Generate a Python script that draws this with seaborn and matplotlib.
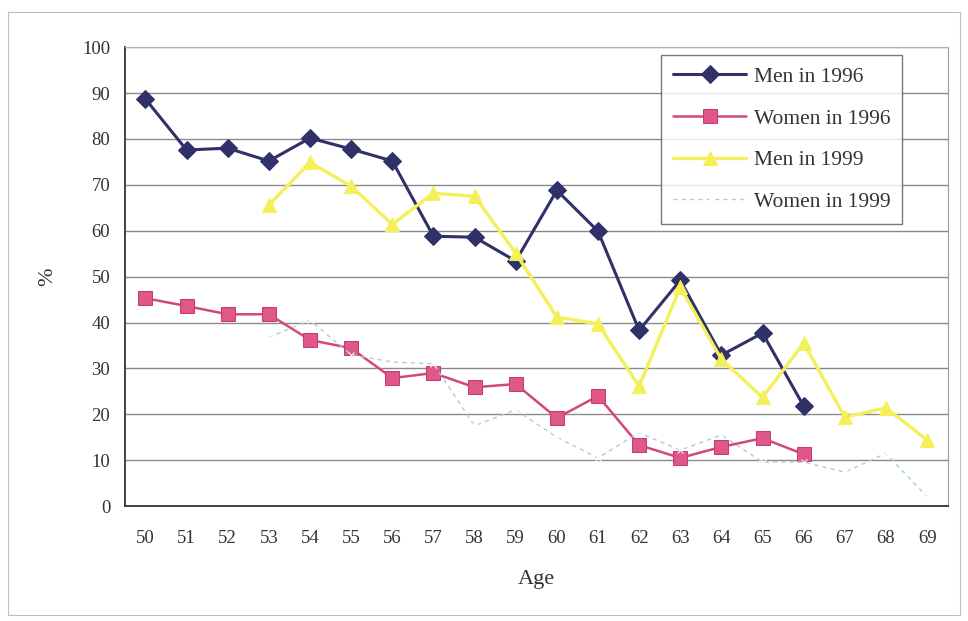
import numpy as np
import pandas as pd
import matplotlib
matplotlib.use("Agg")
import matplotlib.pyplot as plt
from matplotlib.patches import Rectangle
from matplotlib.ticker import MultipleLocator, FixedLocator
import seaborn as sns

ages = list(range(50, 70))
nan = np.nan

men_1996 = [88.7, 77.6, 78.0, 75.2, 80.2, 77.8, 75.2, 58.8, 58.6, 53.4,
            68.8, 59.9, 38.3, 49.2, 32.9, 37.7, 21.8, nan, nan, nan]
women_1996 = [45.3, 43.6, 41.8, 41.8, 36.2, 34.4, 27.9, 29.0, 25.9, 26.6,
              19.2, 24.0, 13.3, 10.5, 12.9, 14.8, 11.3, nan, nan, nan]
men_1999 = [nan, nan, nan, 65.6, 74.9, 69.7, 61.4, 68.2, 67.5, 55.1,
            41.2, 39.7, 26.1, 47.7, 32.0, 23.7, 35.5, 19.4, 21.4, 14.4]
women_1999 = [nan, nan, nan, 36.8, 40.5, 33.0, 31.4, 31.0, 17.5, 21.0,
              15.0, 10.5, 16.0, 12.2, 15.5, 9.6, 9.6, 7.4, 11.5, 2.0]

series = ["Men in 1996", "Women in 1996", "Men in 1999", "Women in 1999"]

sns.set_style("white")
plt.rcParams['font.family'] = ['Liberation Serif', 'DejaVu Serif']

fig = plt.figure(figsize=(9.68, 6.21), dpi=100)
ax = fig.add_axes([0.129, 0.185, 0.850, 0.739])

# outer chart frame
fig.patches.append(Rectangle((0.008, 0.01), 0.984, 0.97, transform=fig.transFigure,
                             fill=False, edgecolor='#bdbdbd', linewidth=0.8))

sns.lineplot(x=ages, y=men_1996, ax=ax, color='#2f3168', marker='D', markersize=9,
             markeredgecolor='#2f3168', linewidth=2.2, label=series[0])
sns.lineplot(x=ages, y=women_1996, ax=ax, color='#d2487a', marker='s', markersize=10,
             markerfacecolor='#e0588a', markeredgecolor='#c63c6e', linewidth=1.8,
             label=series[1])
sns.lineplot(x=ages, y=men_1999, ax=ax, color='#f4f05a', marker='^', markersize=10,
             markeredgecolor='#f4f05a', linewidth=2.4, label=series[2])
sns.lineplot(x=ages, y=women_1999, ax=ax, color='#a8cde3', linestyle=(0, (3, 3)),
             marker='x', markersize=4, linewidth=1.0, label=series[3])

ax.set_xlim(49.5, 69.5)
ax.set_ylim(0, 100)
ax.yaxis.set_major_locator(MultipleLocator(10))
ax.xaxis.set_major_locator(FixedLocator(ages))
ax.xaxis.set_minor_locator(FixedLocator([a + 0.5 for a in ages[:-1]]))
ax.grid(axis='y', color='#8a8a8a', linewidth=1.0)
ax.set_axisbelow(True)

ax.tick_params(axis='x', which='major', length=0, pad=17, labelsize=13.5, colors='#333333')
ax.tick_params(axis='x', which='minor', length=5, direction='in', color='#555555')
ax.tick_params(axis='y', length=4, direction='in', pad=10.5, labelsize=13.5, colors='#333333')

for side in ['left', 'bottom']:
    ax.spines[side].set_color('#333333')
    ax.spines[side].set_linewidth(1.3)
ax.spines['top'].set_color('#b0b0b0')
ax.spines['right'].set_color('#9a9a9a')

ax.set_xlabel("Age", fontsize=16, color='#333333', labelpad=17)
ax.set_ylabel("%", fontsize=16, color='#333333', labelpad=18)

leg = ax.legend(loc='upper right', bbox_to_anchor=(0.945, 0.983), borderaxespad=0,
                fontsize=15.5, frameon=True, fancybox=False, borderpad=0.55,
                labelspacing=1.0, handlelength=3.4, handletextpad=0.35)
leg.get_frame().set_edgecolor('#555555')
leg.get_frame().set_linewidth(1.0)
for t in leg.get_texts():
    t.set_color('#333333')

fig.savefig("out.png", dpi=100)
